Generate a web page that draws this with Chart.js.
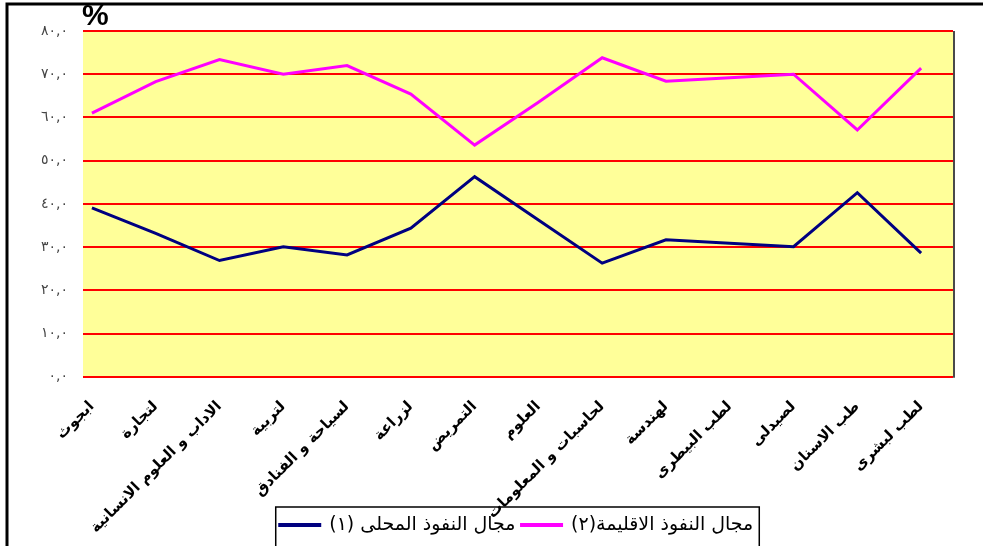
<!DOCTYPE html>
<html>
<head>
<meta charset="utf-8">
<script src="https://cdn.jsdelivr.net/npm/chart.js@4.4.1/dist/chart.umd.min.js"></script>
<style>
  html, body { margin: 0; padding: 0; background: #fff; }
  #wrap { width: 983px; height: 546px; position: relative; }
</style>
</head>
<body>
<div id="wrap"><canvas id="chart"></canvas></div>
<script>
// الكليات
const categories = [
  "ابجوث", "لتجارة", "الاداب و العلوم الانسانية", "لتربية", "لسياحة و الفنادق",
  "لزراعة", "التمريض", "العلوم", "لحاسبات و المعلومات", "لهندسة",
  "لطب البيطرى", "لصيدلى", "طب الاسنان", "لطب لبشرى"
];
const seriesNames = ["مجال النفوذ المحلى (١)", "مجال النفوذ الاقليمة(٢)"];
// مجال النفوذ المحلى
const localValues = [39.1, 33.2, 26.9, 30.1, 28.2, 34.4, 46.3, 36.3, 26.3, 31.7, 30.9, 30.1, 42.6, 28.6];
// مجال النفوذ الاقليمى
const regionalValues = [61.0, 68.3, 73.4, 70.0, 72.0, 65.4, 53.6, 63.5, 73.8, 68.4, 69.2, 70.0, 57.1, 71.4];
const yTickLabels = ["٠,٠", "١٠,٠", "٢٠,٠", "٣٠,٠", "٤٠,٠", "٥٠,٠", "٦٠,٠", "٧٠,٠", "٨٠,٠"];

const arabicFont = "'DejaVu Sans', sans-serif";

// الخلفية الصفراء والإطار وعلامة %
const decor = {
  id: "decor",
  afterLayout(chart) {
    // لا تقص أسماء الكليات الطويلة عند حد المحور
    chart.scales.x.bottom = chart.height;
    // وسيلة الإيضاح مزاحة قليلا نحو اليمين كما في الأصل
    const lg = chart.legend;
    lg.left += 36;
    lg.right += 36;
    lg.adjustHitBoxes();
  },
  beforeDraw(chart) {
    const { ctx, chartArea: a } = chart;
    ctx.save();
    ctx.fillStyle = "#ffffff";
    ctx.fillRect(0, 0, chart.width, chart.height);
    ctx.fillStyle = "#FFFF99";
    ctx.fillRect(a.left, a.top, a.right - a.left, a.bottom - a.top);
    ctx.restore();
  },
  afterDraw(chart) {
    const { ctx, chartArea: a } = chart;
    ctx.save();
    // ظل الحافة اليمنى
    ctx.strokeStyle = "#4a4a4a";
    ctx.lineWidth = 2;
    ctx.beginPath();
    ctx.moveTo(a.right + 1, a.top);
    ctx.lineTo(a.right + 1, a.bottom + 1);
    ctx.stroke();
    // الإطار الخارجي
    ctx.strokeStyle = "#000";
    ctx.lineWidth = 3;
    ctx.beginPath();
    ctx.moveTo(7, 560);
    ctx.lineTo(7, 4);
    ctx.lineTo(990, 4);
    ctx.stroke();
    // %
    ctx.fillStyle = "#000";
    ctx.font = "bold 30px 'Liberation Sans', Arial, sans-serif";
    ctx.textBaseline = "alphabetic";
    ctx.fillText("%", 82, 25);
    // إطار وسيلة الإيضاح
    const boxes = chart.legend.legendHitBoxes;
    if (boxes && boxes.length) {
      const l = Math.min(...boxes.map(b => b.left)) - 4;
      const r = Math.max(...boxes.map(b => b.left + b.width)) + 6;
      ctx.strokeStyle = "#000";
      ctx.lineWidth = 1.5;
      ctx.strokeRect(l, 507, r - l, 80);
    }
    ctx.restore();
  }
};

new Chart(document.getElementById("chart"), {
  type: "line",
  data: {
    datasets: [
      {
        label: seriesNames[0],
        data: localValues.map((v, i) => ({ x: i, y: v })),
        borderColor: "#000080",
        backgroundColor: "#000080",
        borderWidth: 3,
        pointRadius: 0,
        tension: 0,
      },
      {
        label: seriesNames[1],
        data: regionalValues.map((v, i) => ({ x: i, y: v })),
        borderColor: "#FF00FF",
        backgroundColor: "#FF00FF",
        borderWidth: 3,
        pointRadius: 0,
        tension: 0,
      },
    ],
  },
  options: {
    animation: false,
    responsive: true,
    maintainAspectRatio: false,
    layout: { padding: { left: 8, top: 31, right: 30, bottom: 1.5 } },
    scales: {
      x: {
        type: "linear",
        min: -0.14,
        max: 13.5,
        afterBuildTicks: (scale) => {
          scale.ticks = categories.map((_, i) => ({ value: i }));
        },
        afterFit: (scale) => { scale.height = 132.7; },
        ticks: {
          autoSkip: false,
          minRotation: 45,
          maxRotation: 45,
          padding: 13,
          color: "#000",
          font: { family: arabicFont, size: 15, weight: "bold" },
          callback: (v) => categories[v],
        },
        grid: { display: false },
        border: { display: false },
      },
      y: {
        min: 0,
        max: 80,
        afterFit: (scale) => { scale.width = 75; },
        ticks: {
          stepSize: 10,
          padding: 15,
          color: "#444",
          font: { family: arabicFont, size: 14 },
          callback: (v) => yTickLabels[v / 10],
        },
        grid: { color: "#FF0000", lineWidth: 2, drawTicks: false },
        border: { display: false },
      },
    },
    plugins: {
      legend: {
        position: "bottom",
        labels: {
          color: "#000",
          boxWidth: 40,
          boxHeight: 1,
          padding: 6,
          font: { family: arabicFont, size: 19 },
        },
      },
      tooltip: { enabled: false },
    },
  },
  plugins: [decor],
});
</script>
</body>
</html>
